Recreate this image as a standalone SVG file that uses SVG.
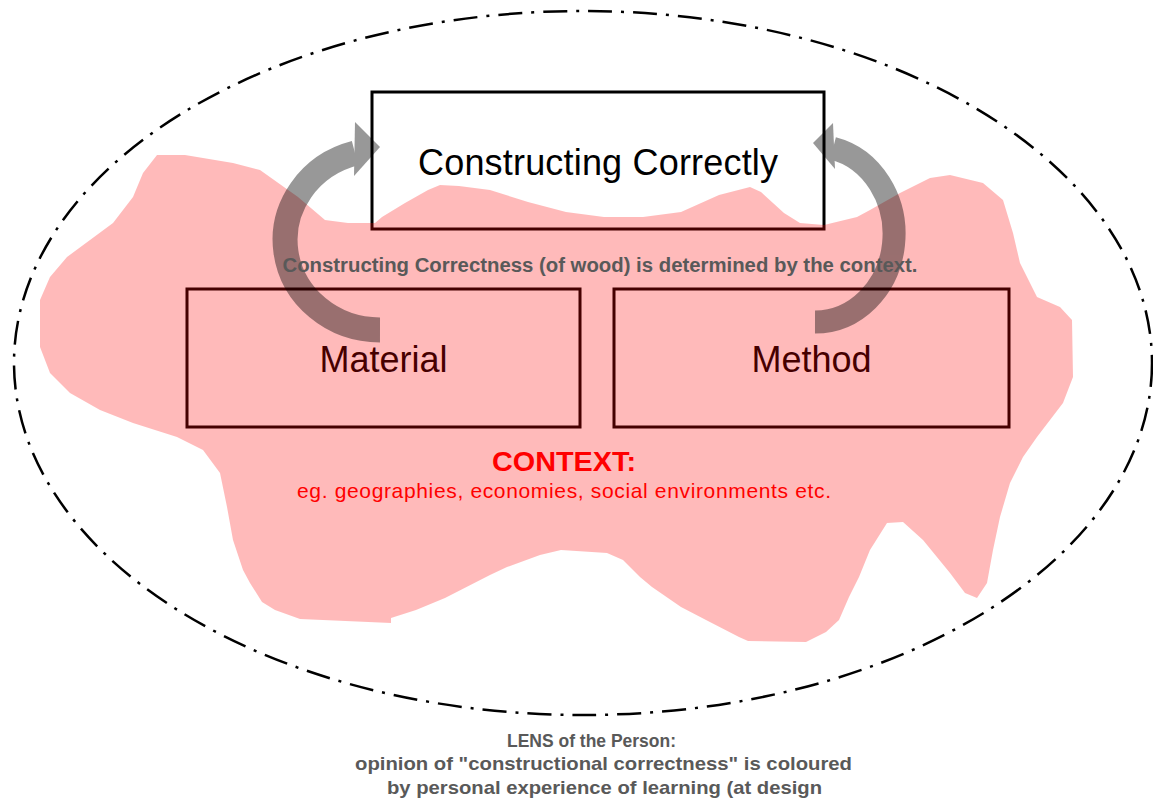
<svg xmlns="http://www.w3.org/2000/svg" width="1153" height="799" viewBox="0 0 1153 799">
<style>
.box{fill:none;stroke:#000;stroke-width:3}
.big{font-family:"Liberation Sans",Arial,sans-serif;font-size:36px;fill:#000;text-anchor:middle}
.gray{font-family:"Liberation Sans",Arial,sans-serif;font-weight:bold;fill:#595959;text-anchor:middle}
.red{font-family:"Liberation Sans",Arial,sans-serif;fill:#ff0000;text-anchor:middle}
</style>
<rect width="1153" height="799" fill="#fff"/>
<g id="node-top">
<rect class="box" x="372" y="92" width="452" height="137"/>
<text class="big" x="598" y="175" textLength="360" lengthAdjust="spacing">Constructing Correctly</text>
</g>
<g id="node-material">
<rect class="box" x="187" y="289" width="393" height="138"/>
<text class="big" x="383.5" y="372">Material</text>
</g>
<g id="node-method">
<rect class="box" x="614" y="289" width="395" height="138"/>
<text class="big" x="811.5" y="372">Method</text>
</g>
<g id="context-blob">
<path fill="#ff0000" fill-opacity="0.27" d="M157,155 L185,155 L233,163 L260,170 L298,197 L325,220 L348,223 L375,223 L382,217 L405,203 L428,190 L440,185 L459,186 L490,190 L528,202 L566,212 L604,217 L643,217 L681,212 L719,195 L750,187 L761,192 L784,213 L800,223 L824,225 L857,217 L870,210 L900,193 L930,178 L950,175 L983,183 L1003,200 L1013,233 L1020,263 L1037,297 L1060,307 L1072,320 L1073,377 L1063,403 L1037,437 L1023,457 L1010,483 L1000,517 L993,550 L987,583 L977,598 L965,593 L950,573 L923,540 L903,522 L887,523 L870,550 L859,577 L849,597 L839,620 L826,632 L806,642 L748,641 L739,637 L706,620 L681,607 L652,587 L640,577 L623,560 L607,553 L561,550 L540,555 L507,567 L490,575 L445,598 L416,610 L391,618 L391,623 L300,619 L275,610 L262,602 L250,583 L243,570 L233,540 L227,507 L220,473 L203,450 L177,437 L133,423 L100,410 L70,393 L50,373 L40,347 L40,300 L50,277 L67,257 L90,240 L113,223 L133,197 L143,173 Z"/>
</g>
<g id="connectors">
<g opacity="0.4">
<path d="M380,330 A95,90 0 0 1 355,153.2" fill="none" stroke="#000" stroke-width="25"/>
<polygon points="355,122 380,147 354,176" fill="#000"/>
</g>
<g opacity="0.4">
<path d="M815,322 A79,88 0 0 0 833,148.3" fill="none" stroke="#000" stroke-width="23"/>
<polygon points="833,123 813,143 835,169" fill="#000"/>
</g>
</g>
<g id="labels">
<text class="gray" x="600" y="272" font-size="19.5" textLength="635" lengthAdjust="spacingAndGlyphs">Constructing Correctness (of wood) is determined by the context.</text>
<text class="red" x="564" y="471" font-size="27" font-weight="bold" textLength="144" lengthAdjust="spacingAndGlyphs">CONTEXT:</text>
<text class="red" x="564" y="498" font-size="21" textLength="534" lengthAdjust="spacing">eg. geographies, economies, social environments etc.</text>
</g>
<g id="lens">
<ellipse cx="583" cy="363" rx="569" ry="352" fill="none" stroke="#000" stroke-width="2.5" stroke-dasharray="24 9 3 9"/>
<text class="gray" x="591.5" y="747" font-size="19" textLength="169" lengthAdjust="spacingAndGlyphs">LENS of the Person:</text>
<text class="gray" x="603.5" y="770" font-size="19" textLength="497" lengthAdjust="spacingAndGlyphs">opinion of "constructional correctness" is coloured</text>
<text class="gray" x="604.5" y="794" font-size="19" textLength="435" lengthAdjust="spacingAndGlyphs">by personal experience of learning (at design</text>
</g>
</svg>
